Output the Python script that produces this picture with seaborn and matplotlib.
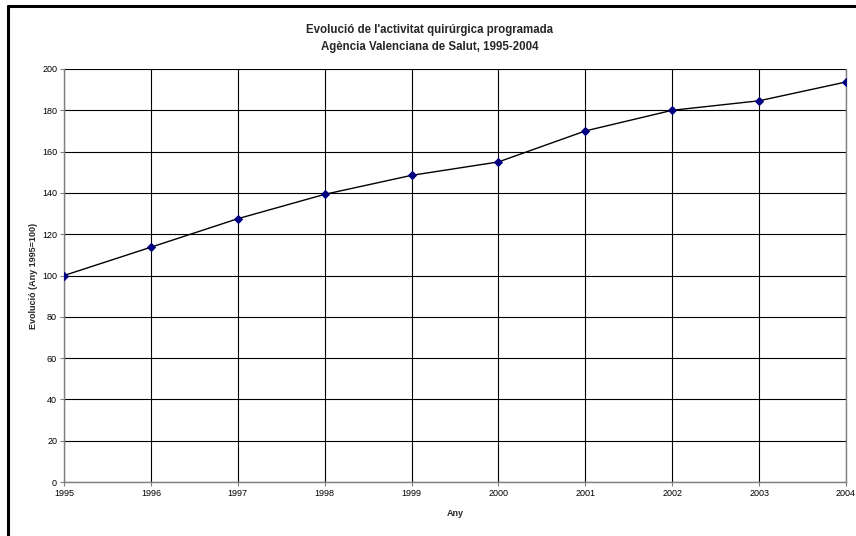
import matplotlib
matplotlib.use("Agg")
import matplotlib.pyplot as plt
import seaborn as sns
import pandas as pd
from matplotlib.lines import Line2D

# Surgical activity index, base year 1995 = 100
years = [1995, 1996, 1997, 1998, 1999, 2000, 2001, 2002, 2003, 2004]
index_values = [100.0, 113.7, 127.5, 139.3, 148.5, 155.0, 170.0, 180.0, 184.6, 193.7]
y_ticks = [0, 20, 40, 60, 80, 100, 120, 140, 160, 180, 200]

title_text = "Evolució de l'activitat quirúrgica programada\nAgència Valenciana de Salut, 1995-2004"
x_label = "Any"
y_label = "Evolució (Any 1995=100)"

sns.set_theme(style="white")
plt.rcParams["font.family"] = ["Liberation Sans", "DejaVu Sans"]

df = pd.DataFrame({"Any": years, "Index": index_values})

fig = plt.figure(figsize=(8.56, 5.36), dpi=100)
ax = fig.add_axes([0.0748, 0.1007, 0.9135, 0.7706])

sns.lineplot(data=df, x="Any", y="Index", ax=ax, color="black", linewidth=1.0,
             marker="D", markersize=4.2, markerfacecolor="#000080",
             markeredgecolor="#000080", zorder=3)

ax.set_xlim(years[0], years[-1])
ax.set_ylim(y_ticks[0], y_ticks[-1])
ax.set_xticks(years)
ax.set_xticklabels([str(y) for y in years])
ax.set_yticks(y_ticks)

ax.grid(True, color="black", linewidth=0.8)
ax.set_axisbelow(True)
for side in ["left", "bottom", "right", "top"]:
    ax.spines[side].set_color("#7f7f7f")
    ax.spines[side].set_linewidth(1.0)
ax.spines["top"].set_visible(False)

ax.tick_params(axis="both", which="major", labelsize=6.5, colors="black",
               length=3, width=0.8, direction="out", pad=2)
ax.tick_params(axis="x", bottom=True, color="#7f7f7f")
ax.tick_params(axis="y", left=True, color="#7f7f7f")

ax.set_xlabel(x_label, fontsize=6.5, fontweight="bold", labelpad=8)
ax.set_ylabel(y_label, fontsize=6.5, fontweight="bold", labelpad=2.5)

fig.text(0.502, 1 - 38.5 / 536, title_text, ha="center", va="center", fontsize=8.3,
         fontweight="bold", linespacing=1.55)

# Frame lines around the chart area
fig.add_artist(Line2D([8 / 856, 8 / 856], [0, 1 - 6 / 536], transform=fig.transFigure,
                      color="black", linewidth=2.2))
fig.add_artist(Line2D([8 / 856, 1], [1 - 6 / 536, 1 - 6 / 536], transform=fig.transFigure,
                      color="black", linewidth=2.2))

fig.savefig("out.png", dpi=100)
